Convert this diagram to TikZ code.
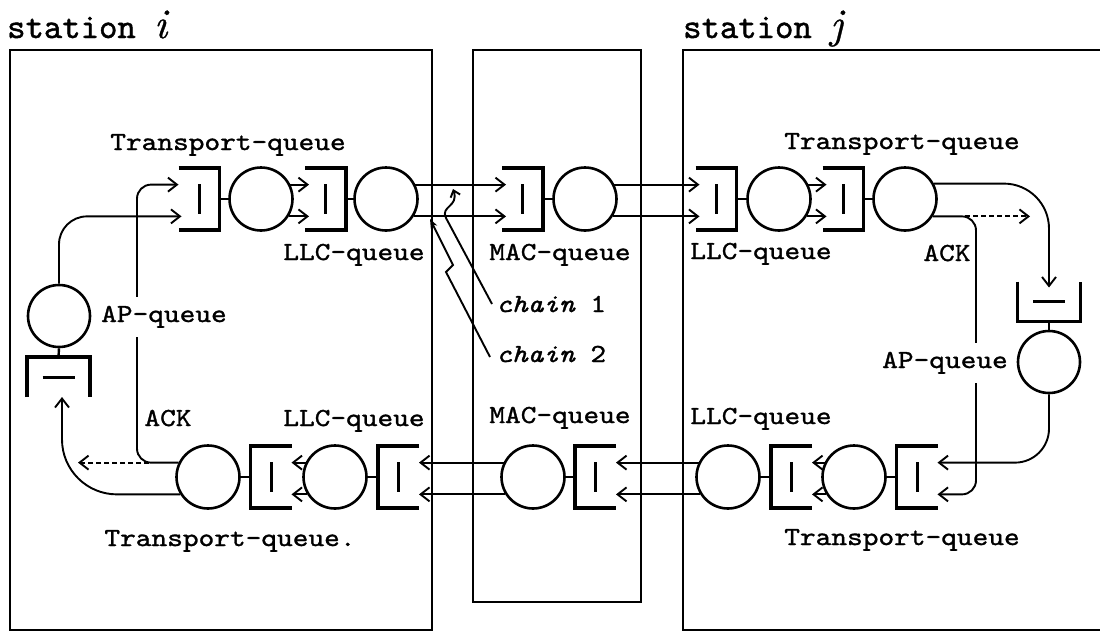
\documentclass[tikz,border=0pt]{standalone}
\usepackage{fontspec}
\usetikzlibrary{arrows.meta,calc}
\newfontfamily\labfont{lmmono10-regular.otf}[FakeStretch=1.15,FakeBold=1.2,ItalicFont=lmmono10-italic.otf]
\newfontfamily\titfont{lmmono10-regular.otf}[FakeBold=1.2]
\newfontfamily\mathitfont{lmroman10-italic.otf}[FakeBold=0.8]

\tikzset{
  frm/.style={line width=2.6pt},
  qb/.style={minimum width=41pt,minimum height=62pt,inner sep=0pt,outer sep=0pt},
  qbh/.style={minimum width=63pt,minimum height=40pt,inner sep=0pt,outer sep=0pt},
  qline/.style={line width=3.6pt},
  qbar/.style={line width=3pt},
  srv/.style={circle,draw,line width=2.6pt,minimum size=63pt,inner sep=0pt},
  link/.style={line width=2.4pt},
  arr/.style={line width=1.9pt,-{Straight Barb[length=9pt,width=14pt]}},
  darr/.style={arr,dash pattern=on 5pt off 3pt},
  lab/.style={font=\labfont\fontsize{26}{30}\selectfont,anchor=base,inner sep=0pt},
  aplab/.style={lab,fill=white,inner ysep=9pt,inner xsep=1pt},
  tit/.style={font=\titfont\fontsize{35}{40}\selectfont,anchor=base west,inner sep=0pt},
}

\newcommand\qbL[3]{% open on the left
  \node[qb] (#1) at (#2,#3) {};
  \draw[qline] (#1.north west) -- (#1.north east) -- (#1.south east) -- (#1.south west);
  \draw[qbar] ([yshift=15pt]#1.center) -- ([yshift=-15pt]#1.center);}
\newcommand\qbR[3]{% open on the right
  \node[qb] (#1) at (#2,#3) {};
  \draw[qline] (#1.north east) -- (#1.north west) -- (#1.south west) -- (#1.south east);
  \draw[qbar] ([yshift=15pt]#1.center) -- ([yshift=-15pt]#1.center);}
\newcommand\qbB[3]{% open at the bottom
  \node[qbh] (#1) at (#2,#3) {};
  \draw[qline] (#1.south west) -- (#1.north west) -- (#1.north east) -- (#1.south east);
  \draw[qbar] ([xshift=-16pt]#1.center) -- ([xshift=16pt]#1.center);}
\newcommand\qbT[3]{% open at the top
  \node[qbh] (#1) at (#2,#3) {};
  \draw[qline] (#1.north west) -- (#1.south west) -- (#1.south east) -- (#1.north east);
  \draw[qbar] ([xshift=-16pt]#1.center) -- ([xshift=16pt]#1.center);}

\begin{document}
\begin{tikzpicture}[x=1pt,y=-1pt]
\clip (0,0) rectangle (1100,632);
\fill[white] (0,0) rectangle (1100,632);

% frames
\draw[frm] (10,50) rectangle (432,630);
\draw[frm] (473,50) rectangle (641,602);
\draw[frm] (1112,50) -- (683,50) -- (683,630) -- (1112,630);

% titles
\node[tit] (sti) at (7,38) {station {\mathitfont\fontsize{42}{42}\selectfont i}};
\node[tit] (stj) at (683,38) {station {\mathitfont\fontsize{42}{42}\selectfont j}};

% ---- top row ----
\qbL{TQi}{199}{199}
\node[srv] (TCi) at (261,199) {};
\qbL{LQi}{325.5}{199}
\node[srv] (LCi) at (386,199) {};
\qbL{MQt}{522.5}{199}
\node[srv] (MCt) at (585,199) {};
\qbL{LQj}{716}{199}
\node[srv] (LCj) at (779,199) {};
\qbL{TQj}{843}{199}
\node[srv] (TCj) at (905,199) {};

\foreach \b/\c in {TQi/TCi,LQi/LCi,MQt/MCt,LQj/LCj,TQj/TCj}
  \draw[link] (\b.east) -- (\c.west);

% ---- bottom row ----
\node[srv] (TCbi) at (208,477) {};
\qbR{TQbi}{271}{477}
\node[srv] (LCbi) at (335,477) {};
\qbR{LQbi}{398.5}{477}
\node[srv] (MCb) at (533,477) {};
\qbR{MQb}{595.5}{477}
\node[srv] (LCbj) at (728,477) {};
\qbR{LQbj}{791.5}{477}
\node[srv] (TCbj) at (854,477) {};
\qbR{TQbj}{917}{477}

\foreach \b/\c in {TQbi/TCbi,LQbi/LCbi,MQb/MCb,LQbj/LCbj,TQbj/TCbj}
  \draw[link] (\b.west) -- (\c.east);

% ---- AP queues ----
\node[srv,minimum size=62pt] (APi) at (59,316) {};
\qbB{APqi}{58.5}{377}
\draw[link] (APi.south) -- (APqi.north);
\qbT{APqj}{1049}{301.5}
\node[srv,minimum size=62pt] (APj) at (1049,362) {};
\draw[link] (APqj.south) -- (APj.north);

% ---- forward arrows, top row ----
\foreach \a/\b in {TCi/LQi,LCi/MQt,MCt/LQj,LCj/TQj}{
  \draw[arr] (\a.26) -- ([xshift=4pt]\b.west |- \a.26);
  \draw[arr] (\a.-32) -- ([xshift=4pt]\b.west |- \a.-32);
}
% ---- backward arrows, bottom row ----
\foreach \a/\b in {TCbj/LQbj,LCbj/MQb,MCb/LQbi,LCbi/TQbi}{
  \draw[arr] (\a.154) -- (\b.east |- \a.154);
  \draw[arr] (\a.212) -- (\b.east |- \a.212);
}

% ---- station i loops ----
\coordinate (ackI) at (137,300);
\coordinate (dashI) at (78,0);
\draw[arr,rounded corners=14pt] (TCbi.154) -| (ackI) |- (TQi.west |- TCi.26);
\draw[darr] ($(TCbi.154 -| ackI)+(12,0)$) -- (dashI |- TCbi.154);
\draw[arr,rounded corners=55pt] (TCbi.212) -| ([xshift=3.5pt]APqi.south);
\draw[arr,rounded corners=28pt] (APi.north) |- ([xshift=3pt]TQi.west |- TCi.-32);

% ---- station j loops ----
\coordinate (ackJ) at (976,300);
\coordinate (dashJ) at (1030,0);
\draw[arr,rounded corners=14pt] (TCj.-32) -| (ackJ) |- (TQbj.east |- TCbj.212);
\draw[darr] ($(TCj.-32 -| ackJ)+(-11,0)$) -- (dashJ |- TCj.-32);
\draw[arr,rounded corners=45pt] (TCj.28) -| ([yshift=-6pt]APqj.north);
\draw[arr,rounded corners=34pt] (APj.south) |- (TQbj.east |- TCbj.154);

% ---- labels ----
\node[lab] (lTQi) at (228,150) {Transport-queue};
\node[lab] (lLQi) at (354,260) {LLC-queue};
\node[lab] (lMQt) at (560,260) {MAC-queue};
\node[lab] (lLQj) at (761,259) {LLC-queue};
\node[lab] (lTQj) at (902,149) {Transport-queue};
\node[lab] (lACKj) at (947,261) {ACK};
\node[aplab] (lAPj) at (945,368) {AP-queue};
\node[lab] (lLQbj) at (761,424) {LLC-queue};
\node[lab] (lTQbj) at (902,545) {Transport-queue};
\node[lab] (lMQb) at (560,423) {MAC-queue};
\node[lab] (lACKi) at (168,426) {ACK};
\node[lab] (lLQbi) at (354,426) {LLC-queue};
\node[lab] (lTQbi) at (230,546) {Transport-queue.};
\node[aplab] (lAPi) at (164,322) {AP-queue};

% ---- chains ----
\node[lab,anchor=base west] (ch1) at (496,312) {{\itshape chain} 1};
\node[lab,anchor=base west] (ch2) at (496,362) {{\itshape chain} 2};
\coordinate (c1tip) at (453,189);
\coordinate (c2tip) at (430,219);
\draw[line width=1.9pt,-{Straight Barb[length=6pt,width=10pt]}]
  ([xshift=-4pt]ch1.west) -- (446,218) .. controls (440,206) and (459,207) .. (c1tip);
\draw[line width=1.9pt,-{Stealth[length=9pt,width=7pt]}]
  ([xshift=-6pt,yshift=-3pt]ch2.west) -- (446,272) -- (453,265) -- (c2tip);
\end{tikzpicture}
\end{document}
